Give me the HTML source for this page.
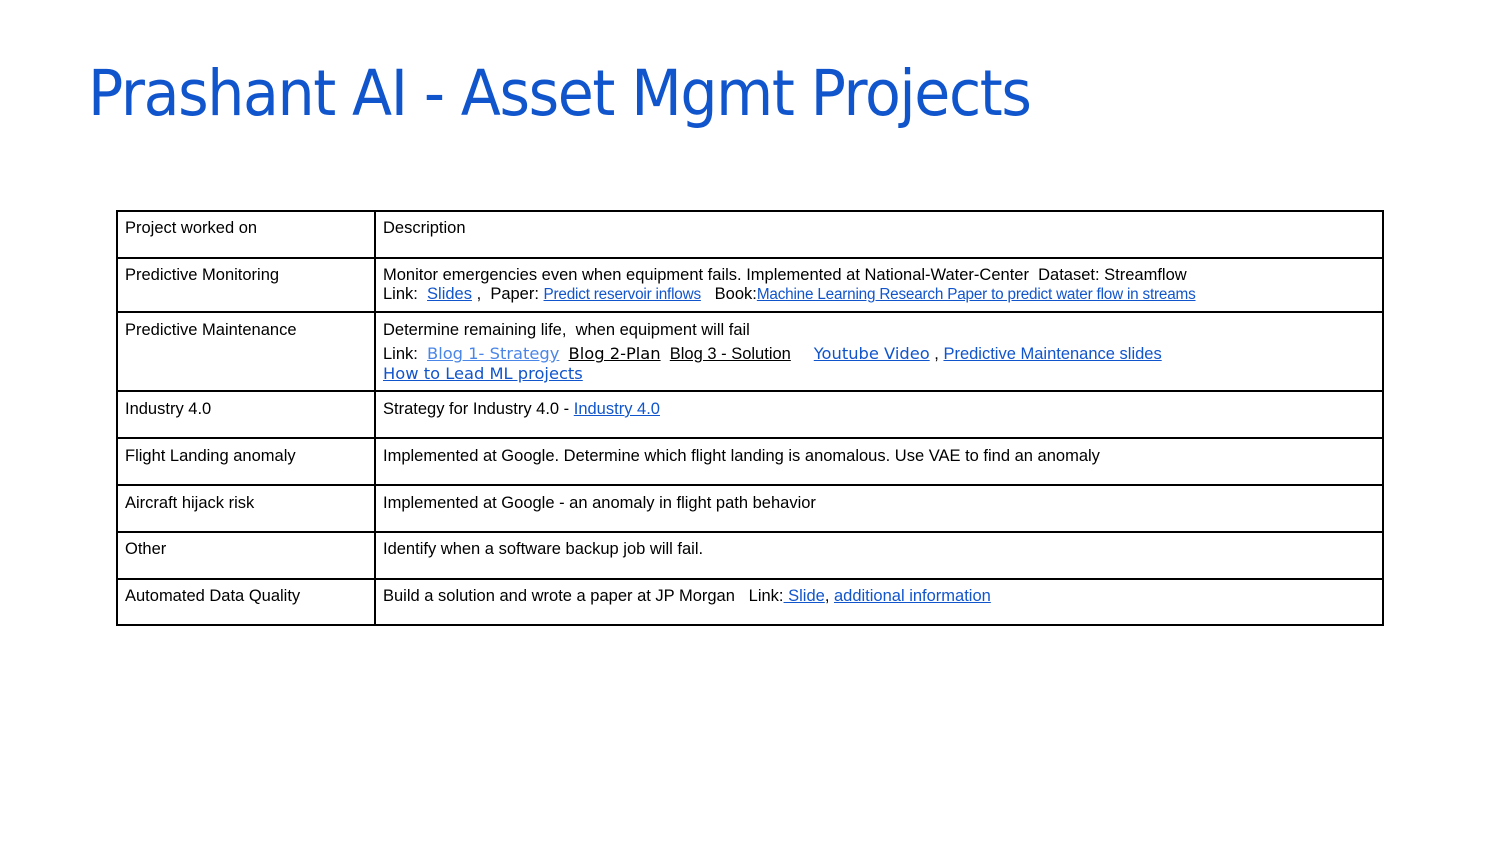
<!DOCTYPE html>
<html><head><meta charset="utf-8"><style>
body{margin:0;width:1500px;height:844px;background:#fff;position:relative;overflow:hidden;font-family:"Liberation Sans",Arial,sans-serif;}
.title{position:absolute;left:88px;top:57px;font-size:63px;color:#1155cc;font-family:"DejaVu Sans","Liberation Sans",sans-serif;letter-spacing:-1.5px;white-space:nowrap;transform:scaleX(0.93);transform-origin:left top;}
.hl{position:absolute;left:116px;width:1268px;height:2px;background:#000;}
.vl{position:absolute;top:210px;width:2px;height:416px;background:#000;}
.c{position:absolute;font-size:16.5px;color:#000;white-space:nowrap;line-height:19px;}
a{color:#1155cc;text-decoration:underline;}
.sm{font-size:15.3px;letter-spacing:-0.2px;}
.dv{font-family:"DejaVu Sans",sans-serif;font-size:16.3px;}
</style></head><body>
<div class="title">Prashant AI - Asset Mgmt Projects</div>
<div>
<div class="hl" style="top:210px"></div><div class="hl" style="top:257px"></div><div class="hl" style="top:311px"></div><div class="hl" style="top:390px"></div><div class="hl" style="top:437px"></div><div class="hl" style="top:484px"></div><div class="hl" style="top:531px"></div><div class="hl" style="top:578px"></div><div class="hl" style="top:624px"></div>
<div class="vl" style="left:116px"></div><div class="vl" style="left:374px"></div><div class="vl" style="left:1382px"></div>
<div class="c" style="left:125px;top:219px">Project worked on</div>
<div class="c" style="left:383px;top:219px">Description</div>
<div class="c" style="left:125px;top:266px">Predictive Monitoring</div>
<div class="c" style="left:383px;top:266px">Monitor emergencies even when equipment fails. Implemented at National-Water-Center&nbsp; Dataset: Streamflow<br>Link:&nbsp; <a href="#">Slides</a> ,&nbsp; Paper: <a class="sm" href="#">Predict reservoir inflows</a>&nbsp;&nbsp; Book:<a class="sm" href="#">Machine Learning Research Paper to predict water flow in streams</a></div>
<div class="c" style="left:125px;top:321px">Predictive Maintenance</div>
<div class="c" style="left:383px;top:321px">Determine remaining life,&nbsp; when equipment will fail</div>
<div class="c" style="left:383px;top:344px;line-height:20px">Link:&nbsp; <a class="dv" style="color:#4a86e8" href="#">Blog 1- Strategy</a>&nbsp; <a class="dv" style="color:#000" href="#">Blog 2-Plan</a>&nbsp; <a style="color:#000" href="#">Blog 3 - Solution</a>&nbsp;&nbsp;&nbsp;&nbsp; <a class="dv" href="#">Youtube Video</a> , <a href="#">Predictive Maintenance slides</a><br><a class="dv" href="#">How to Lead ML projects</a></div>
<div class="c" style="left:125px;top:400px">Industry 4.0</div>
<div class="c" style="left:383px;top:400px">Strategy for Industry 4.0 - <a href="#">Industry 4.0</a></div>
<div class="c" style="left:125px;top:447px">Flight Landing anomaly</div>
<div class="c" style="left:383px;top:447px">Implemented at Google. Determine which flight landing is anomalous. Use VAE to find an anomaly</div>
<div class="c" style="left:125px;top:494px">Aircraft hijack risk</div>
<div class="c" style="left:383px;top:494px">Implemented at Google - an anomaly in flight path behavior</div>
<div class="c" style="left:125px;top:540px">Other</div>
<div class="c" style="left:383px;top:540px">Identify when a software backup job will fail.</div>
<div class="c" style="left:125px;top:587px">Automated Data Quality</div>
<div class="c" style="left:383px;top:587px">Build a solution and wrote a paper at JP Morgan&nbsp;&nbsp; Link:<a href="#"> Slide</a>, <a href="#"> additional information</a></div>
</div>
</body></html>
